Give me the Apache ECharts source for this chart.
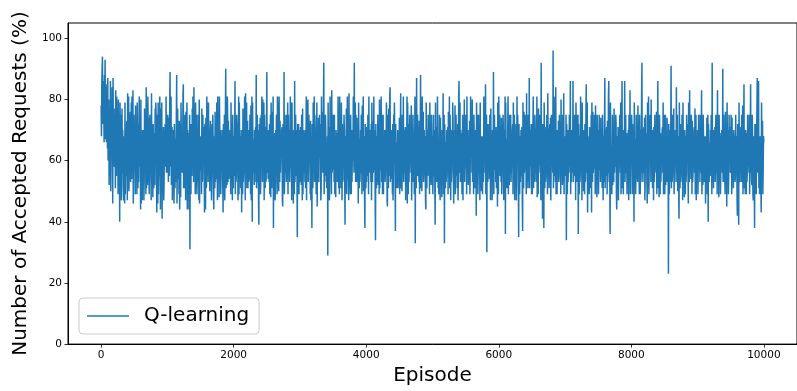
<!DOCTYPE html>
<html>
<head>
<meta charset="utf-8">
<script src="https://cdn.jsdelivr.net/npm/echarts@6/dist/echarts.min.js"></script>
<style>
html,body{margin:0;padding:0;background:#fff;}
#chart{width:797px;height:391px;}
</style>
</head>
<body>
<div id="chart"></div>
<script>
// Episode spacing of the sampled points (one value every 5 episodes, 0..10000)
const episodeStep = 5;
const seriesName = 'Q-learning';
const xTicks = [0, 2000, 4000, 6000, 8000, 10000];
const yTicks = [0, 20, 40, 60, 80, 100];

// Accepted requests (%), rows of 100 samples (500 episodes each)
const accepted = [
  78,68,84,90,94,72,80,86,77,66,88,79,93,67,70,85,66,84,79,64,87,60,64,80,52,74,75,55,86,50,61,79,63,84,82,46,87,58,60,77,58,74,72,51,83,56,55,81,64,70,77,49,80,58,62,75,40,79,68,53,75,47,51,77,56,70,70,56,47,68,66,46,79,49,58,70,55,72,73,47,82,51,57,81,50,75,69,58,76,53,53,79,54,81,71,56,83,46,59,75,
  60,68,67,49,78,58,56,70,49,79,64,51,72,53,53,81,58,75,70,44,80,46,59,68,47,70,66,56,70,47,54,77,61,72,73,49,84,51,57,79,52,81,68,53,74,49,55,75,57,68,71,47,82,58,60,70,48,72,65,51,69,53,52,77,63,79,74,56,43,75,62,46,79,49,56,68,55,81,70,44,77,51,58,79,41,68,67,53,71,47,53,70,59,72,72,58,81,56,61,75,
  56,75,69,53,74,56,55,79,89,58,63,81,52,68,71,47,70,49,57,70,46,72,65,51,67,53,54,75,88,46,60,77,54,70,72,49,73,44,52,72,48,79,68,58,66,56,58,81,85,51,62,68,51,75,70,47,76,53,56,79,44,70,66,56,69,44,53,75,31,72,64,49,72,58,55,77,58,81,73,53,84,56,59,68,49,79,67,51,75,49,54,70,53,75,70,47,80,46,61,68,
  57,68,66,49,77,53,54,75,62,70,71,56,43,72,59,44,74,51,52,81,55,79,68,53,79,56,57,68,50,70,73,58,71,47,56,72,60,75,65,49,44,68,62,51,76,53,53,70,54,79,69,47,81,58,58,75,48,81,70,56,70,49,55,68,58,70,67,53,43,72,63,58,75,47,56,75,90,51,61,79,52,81,72,53,73,56,54,68,61,70,68,49,79,53,57,72,47,75,64,51,
  63,68,55,70,86,49,66,53,55,75,72,56,72,47,53,81,49,79,65,53,68,51,58,70,43,68,70,49,77,53,56,75,59,81,68,47,82,56,61,79,51,70,73,51,70,53,54,68,62,75,66,49,78,47,57,81,40,79,63,56,67,58,52,70,56,68,71,53,88,51,59,75,53,70,67,47,39,72,62,58,74,49,55,75,60,81,70,53,80,56,58,79,47,75,65,51,71,53,54,70,
  89,56,63,68,54,70,70,53,72,49,55,75,48,79,67,51,76,53,58,81,38,68,64,56,69,47,53,70,57,75,72,49,81,51,60,79,50,81,68,53,73,56,56,68,61,70,71,47,45,72,62,51,89,49,57,75,56,68,69,53,75,58,54,79,49,75,66,56,70,53,59,81,58,79,73,47,79,51,55,68,46,70,65,49,86,53,61,75,55,68,70,56,35,72,58,58,72,49,63,70,
  64,53,71,56,52,75,66,47,77,49,57,70,56,68,69,53,70,51,54,81,47,79,63,56,80,53,60,75,59,70,72,49,73,47,55,68,38,72,65,51,79,56,58,81,53,75,70,53,68,49,56,79,45,70,67,56,74,53,53,75,61,68,72,47,50,81,64,58,76,56,57,79,92,49,62,70,55,75,69,53,66,51,54,68,29,79,60,56,71,47,56,81,58,70,68,49,83,56,59,75,
  57,75,68,53,75,49,55,68,48,70,66,56,69,53,58,81,62,51,72,49,81,56,57,75,51,79,67,47,72,53,54,70,58,75,70,56,39,68,61,53,77,49,56,81,54,70,69,47,82,51,59,68,49,75,64,49,70,53,53,70,60,81,71,56,92,58,58,79,53,75,68,53,74,56,55,68,46,79,66,51,67,53,57,70,56,75,72,49,78,56,60,81,50,68,65,47,38,72,62,51,
  71,53,58,70,55,75,69,49,81,56,62,68,60,70,53,72,47,79,66,53,73,56,57,81,58,68,70,47,34,72,61,51,68,53,55,75,52,70,71,49,80,51,59,68,57,81,67,53,75,49,54,75,49,68,65,56,70,53,56,70,63,79,72,47,45,75,60,51,77,56,55,81,84,53,63,68,54,70,68,49,72,47,57,75,59,79,70,56,37,72,62,53,66,51,56,70,51,68,69,53,
  74,49,60,68,82,51,66,53,50,75,68,56,81,53,57,70,56,68,71,47,69,56,54,81,46,79,65,49,72,53,59,75,61,70,70,56,78,47,56,68,53,75,67,53,64,49,58,81,33,72,62,51,87,56,55,75,55,70,69,53,73,49,60,68,88,51,64,79,50,81,71,56,76,53,57,70,58,68,68,47,44,79,63,51,70,56,55,75,62,70,72,49,79,53,58,68,52,75,66,53,
  68,49,57,75,55,70,70,53,39,79,63,56,71,53,54,81,81,51,66,49,57,75,72,47,74,56,58,68,48,70,67,53,82,49,61,75,33,72,64,51,66,53,55,70,59,68,71,49,76,56,57,81,51,75,68,47,70,53,56,68,62,79,73,56,46,70,60,53,78,49,58,75,55,68,69,51,72,47,54,81,86,56,63,79,53,70,70,53,69,49,56,75,47,68,66,56,80,53,59,70,
  58,75,69,49,81,56,56,70,52,68,67,53,73,49,60,81,61,70,71,56,80,53,55,68,49,75,66,51,70,56,58,70,42,79,63,53,75,49,57,75,56,70,72,47,79,51,59,68,50,68,68,49,68,53,54,81,60,75,70,56,85,49,62,75,30,72,57,53,72,56,65,70,54,75,71,47,77,53,56,68,47,70,68,56,89,49,61,75,57,68,70,53,71,51,55,70,45,79,64,49,
  81,56,60,75,55,70,71,53,74,49,56,68,59,75,68,47,70,53,57,81,36,79,63,56,67,51,55,70,81,49,66,53,52,75,70,56,75,53,58,68,58,70,72,49,79,56,61,75,47,68,65,53,72,47,54,81,61,75,69,56,35,72,59,49,68,53,56,70,55,68,71,47,37,79,64,51,76,56,58,75,63,70,70,49,82,53,57,68,51,75,67,53,87,51,62,70,58,68,72,49,
  72,49,58,70,81,51,64,53,54,75,70,56,69,53,56,81,48,68,66,49,77,56,59,75,60,70,71,47,92,49,62,68,41,72,57,53,38,79,64,51,71,53,55,70,56,75,69,49,82,56,60,68,51,70,72,53,74,47,57,75,63,68,68,56,96,51,61,81,55,75,70,53,84,49,58,68,49,70,66,56,73,53,55,75,60,68,72,49,80,56,59,70,52,75,68,53,82,49,63,68,
  63,68,55,75,34,72,62,49,70,53,57,70,58,75,71,56,86,49,64,53,53,70,69,56,86,53,60,68,61,75,55,70,47,79,67,53,75,56,58,75,36,72,62,49,68,53,56,81,57,75,72,47,79,56,59,68,50,70,66,49,72,53,54,75,85,56,63,79,43,68,60,53,66,49,71,51,55,70,57,75,43,79,65,53,76,56,58,70,59,75,70,49,78,53,61,68,48,75,64,56,
  70,49,59,75,57,70,68,53,74,56,55,68,51,75,66,47,68,53,58,70,87,51,63,68,55,70,71,49,73,53,57,81,86,56,64,53,36,79,60,56,65,49,54,75,52,70,69,53,77,56,61,68,58,75,72,49,44,68,63,53,71,47,56,70,61,75,68,56,79,49,59,68,86,51,65,53,49,70,70,56,86,53,62,75,56,68,67,49,69,56,55,70,47,75,64,53,83,49,60,68,
  60,75,68,49,72,53,56,70,40,79,63,56,67,49,55,75,54,70,70,53,78,56,58,68,49,75,66,49,70,53,57,81,92,56,64,53,53,70,71,56,74,47,56,75,58,68,69,53,46,79,62,51,81,49,59,70,62,75,72,53,80,56,57,68,51,70,67,47,71,53,55,75,57,68,70,56,76,49,61,70,86,51,63,53,48,75,68,49,69,53,56,68,60,70,71,56,79,49,58,75,
  66,49,60,75,52,70,68,53,74,56,57,68,23,72,62,49,70,53,56,70,91,51,65,53,55,75,71,56,77,49,58,68,59,70,69,53,84,56,61,75,50,68,66,49,41,79,63,51,72,53,55,70,56,75,70,47,79,56,59,68,48,70,67,49,68,53,56,75,61,68,72,56,46,79,64,53,83,56,58,70,54,75,69,49,73,53,55,68,58,70,71,56,77,49,60,75,47,68,65,53,
  70,49,58,75,57,70,69,53,75,56,62,68,83,49,56,70,52,75,67,53,68,53,55,68,46,68,64,56,74,49,58,75,40,72,62,53,66,56,57,70,55,75,70,49,92,53,61,68,51,70,68,56,71,53,56,75,60,68,72,49,83,56,59,70,48,75,65,53,69,49,55,68,57,70,70,56,90,53,63,75,53,68,68,49,76,56,57,70,45,79,64,53,70,49,56,75,62,70,71,56,
  58,75,66,49,74,53,57,68,51,70,68,56,67,53,55,75,56,68,64,49,42,72,60,56,39,79,63,53,71,56,56,70,53,75,69,53,78,49,61,68,85,51,64,53,49,70,67,49,69,53,57,75,58,68,70,56,75,49,60,70,85,56,63,53,52,75,66,49,47,68,58,53,38,72,62,56,72,49,65,75,87,56,60,70,86,51,68,49,55,68,62,53,43,79,66,56,73,49,58,68,
  66
];

const lineData = accepted.map((v, i) => [i * episodeStep, v]);

const chart = echarts.init(document.getElementById('chart'), null, {renderer: 'canvas'});
const font = 'DejaVu Sans';
const plain = v => String(v);
chart.setOption({
  animation: false,
  backgroundColor: '#ffffff',
  grid: {
    left: 68, right: -10, top: 23, bottom: 46,
    show: true, borderColor: '#000', borderWidth: 1, backgroundColor: 'transparent'
  },
  legend: {
    left: 79, top: 298,
    data: [{name: seriesName, icon: 'rect'}],
    orient: 'vertical',
    padding: [7, 10, 7, 8],
    borderColor: '#cccccc', borderWidth: 1, borderRadius: 4,
    backgroundColor: 'rgba(255,255,255,0.8)',
    itemWidth: 42, itemHeight: 1.5,
    itemStyle: {color: '#1f77b4'},
    textStyle: {fontFamily: font, fontSize: 20, color: '#000', padding: [0, 0, 0, 10], lineHeight: 22}
  },
  xAxis: {
    type: 'value', min: -500, max: 10500,
    name: 'Episode', nameLocation: 'middle', nameGap: 21,
    nameTextStyle: {fontFamily: font, fontSize: 20, color: '#000'},
    axisLine: {show: true, onZero: false, lineStyle: {color: '#000', width: 1}},
    axisTick: {show: true, length: 3.5, lineStyle: {color: '#000', width: 0.8}, customValues: xTicks},
    axisLabel: {fontFamily: font, fontSize: 10.5, color: '#000', margin: 6, customValues: xTicks, formatter: plain},
    splitLine: {show: false}
  },
  yAxis: {
    type: 'value', min: 0, max: 105,
    name: 'Number of Accepted Requests (%)', nameLocation: 'middle', nameGap: 30,
    nameTextStyle: {fontFamily: font, fontSize: 20, color: '#000'},
    axisLine: {show: true, onZero: false, lineStyle: {color: '#000', width: 1}},
    axisTick: {show: true, length: 3.5, lineStyle: {color: '#000', width: 0.8}, customValues: yTicks},
    axisLabel: {fontFamily: font, fontSize: 10.5, color: '#000', margin: 6, customValues: yTicks, formatter: plain},
    splitLine: {show: false}
  },
  series: [{
    name: seriesName,
    type: 'line',
    data: lineData,
    symbol: 'none',
    showSymbol: false,
    sampling: null,
    progressive: 0,
    lineStyle: {color: '#1f77b4', width: 1.5},
    itemStyle: {color: '#1f77b4'}
  }]
});
</script>
</body>
</html>
